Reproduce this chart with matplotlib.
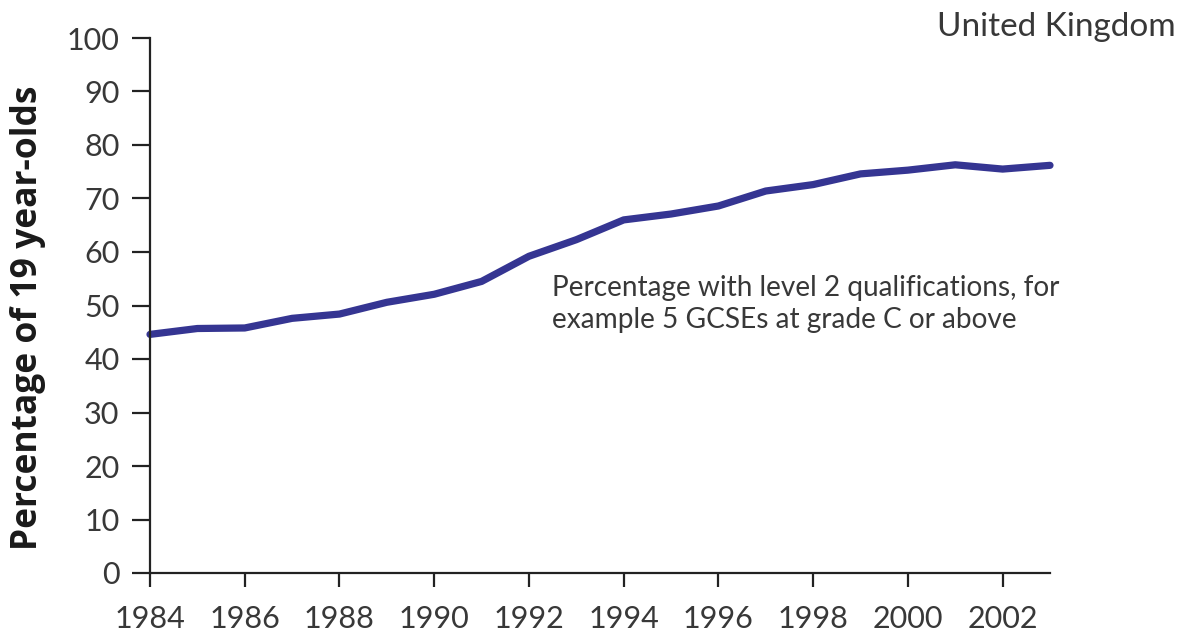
import matplotlib
matplotlib.use("Agg")
import matplotlib.pyplot as plt

years = list(range(1984, 2004))
pct_level2 = [44.6, 45.7, 45.8, 47.6, 48.4, 50.6, 52.1, 54.5, 59.2, 62.3,
              66.0, 67.1, 68.6, 71.4, 72.6, 74.6, 75.3, 76.3, 75.5, 76.2]
x_ticks = list(range(1984, 2003, 2))
y_ticks = list(range(0, 101, 10))

plt.rcParams['font.family'] = ['Lato', 'DejaVu Sans']
TEXT = '#383838'
LINE = '#353592'

fig = plt.figure(figsize=(11.84, 6.4), dpi=100)
ax = fig.add_axes([150/1184, 67/640, 900/1184, 535/640])

ax.plot(years, pct_level2, color=LINE, lw=5.2, solid_capstyle='round',
        solid_joinstyle='round', clip_on=False)

ax.set_xlim(1984, 2003)
ax.set_ylim(0, 100)
ax.set_xticks(x_ticks)
ax.set_yticks(y_ticks)
ax.set_xticklabels([str(t) for t in x_ticks])
ax.set_yticklabels([str(t) for t in y_ticks])

for s in ['top', 'right']:
    ax.spines[s].set_visible(False)
for s in ['left', 'bottom']:
    ax.spines[s].set_color('#222222')
    ax.spines[s].set_linewidth(1.6)

ax.tick_params(axis='y', length=13, width=1.6, color='#222222', pad=9,
               labelsize=22, labelcolor=TEXT)
ax.tick_params(axis='x', length=10, width=1.6, color='#222222', pad=13,
               labelsize=22, labelcolor=TEXT)

fig.text(28/1184, 1 - 318/640, 'Percentage of 19 year-olds', rotation=90,
         ha='center', va='center', fontsize=25.5, fontweight='bold',
         family=['Open Sans', 'DejaVu Sans'], color='#1a1a1a')

fig.text(1176/1184, 1 - 27/640, 'United Kingdom', ha='right', va='center',
         fontsize=24, color=TEXT)

ax.text(1992.49, 50.3,
        'Percentage with level 2 qualifications, for\nexample 5 GCSEs at grade C or above',
        ha='left', va='center', fontsize=20.2, color=TEXT,
        linespacing=1.28)

fig.savefig('out.png', dpi=100)
